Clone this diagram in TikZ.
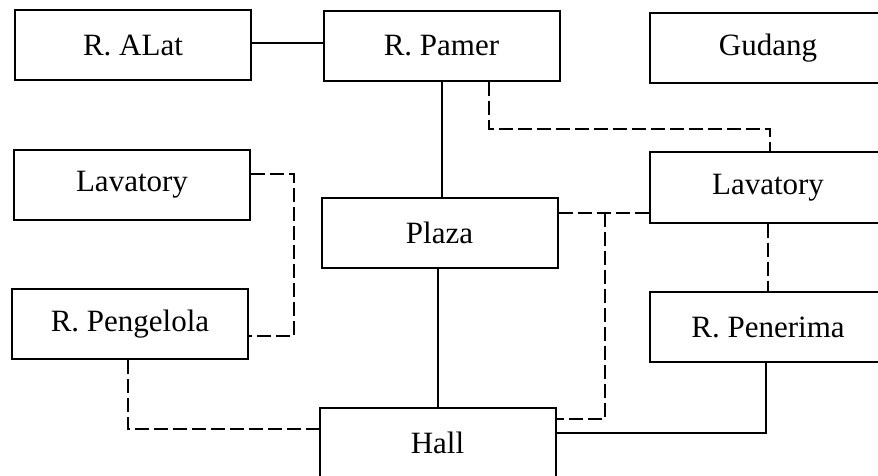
\documentclass[tikz,border=0pt]{standalone}
\usepackage{fontspec}
\setmainfont{Liberation Serif}
\usepackage{tikz}
\usetikzlibrary{calc}

\begin{document}
\begin{tikzpicture}[
    x=1pt, y=-1pt,
    room/.style={rectangle, draw=black, line width=2pt, fill=white,
                 minimum width=236pt, minimum height=70pt,
                 font=\fontsize{31}{36}\selectfont},
    sline/.style={line width=2pt, black},
    dline/.style={line width=2pt, black, dash pattern=on 14pt off 5pt}
]
    \path[use as bounding box, clip] (0,0) rectangle (878,476);

    % rooms
    \node[room] (ralat)     at (133, 45)    {R. ALat};
    \node[room] (rpamer)    at (441.5, 46)  {R. Pamer};
    \node[room] (gudang)    at (768, 48)    {Gudang};
    \node[room] (lavleft)   at (132, 185)   {Lavatory};
    \node[room] (plaza)     at (439.5, 232.5) {Plaza};
    \node[room] (lavright)  at (768, 187.5) {Lavatory};
    \node[room] (pengelola) at (130, 324)   {R. Pengelola};
    \node[room] (penerima)  at (768, 327)   {R. Penerima};
    \node[room] (hall)      at (437.5, 443) {Hall};

    % solid links
    \draw[sline] ([yshift=2pt]ralat.east) -- ([yshift=2pt]ralat.east -| rpamer.west);
    \draw[sline] (rpamer.south) -- (rpamer.south |- plaza.north);
    \draw[sline] ([xshift=-1.5pt]plaza.south) -- ([xshift=-1.5pt]plaza.south |- hall.north);
    \draw[sline] ([xshift=-2pt]penerima.south) |- ([yshift=10pt]hall.east);

    % dashed links
    \draw[dline] ([xshift=47pt]rpamer.south) -- ++(0,47) -| ([xshift=2pt]lavright.north);
    \draw[dline] ([yshift=11pt]lavleft.east) -- ++(43,0) |- ([yshift=-12pt]pengelola.east);
    \draw[dline] ([xshift=-2pt]pengelola.south) |- ([yshift=14pt]hall.west);
    \draw[dline] ([yshift=20pt]plaza.east) -- ++(46,0) coordinate (tee)
                 -- (tee -| lavright.west);
    \draw[dline] (tee) |- ([yshift=24pt]hall.east);
    \draw[dline] (lavright.south) -- (penerima.north);
\end{tikzpicture}
\end{document}
